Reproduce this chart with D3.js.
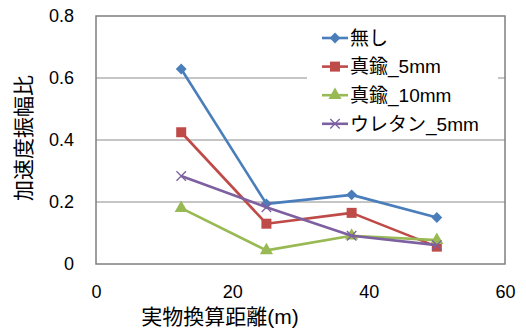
<!DOCTYPE html>
<html>
<head>
<meta charset="utf-8">
<script src="https://cdn.jsdelivr.net/npm/d3@7"></script>
<style>
  html, body { margin: 0; padding: 0; background: #fff; }
  svg { display: block; }
  text { font-family: "Liberation Sans", Arial, sans-serif; fill: #000; }
  .jp { font-family: "Liberation Sans", "Noto Sans CJK JP", sans-serif; }
</style>
</head>
<body>
<svg id="chart" width="526" height="332"></svg>
<script>
// Distance (scaled to full size, m) at which each measurement was taken
const distances = [12.5, 25, 37.5, 50];

// Acceleration amplitude ratio for each damping condition
const seriesNames = ["無し", "真鍮_5mm", "真鍮_10mm", "ウレタン_5mm"];
const valuesNone = [0.629, 0.194, 0.223, 0.150];
const valuesBrass5 = [0.425, 0.130, 0.165, 0.056];
const valuesBrass10 = [0.180, 0.044, 0.091, 0.077];
const valuesUrethane5 = [0.284, 0.183, 0.091, 0.061];

const xTicks = [0, 20, 40, 60];
const yTicks = [0, 0.2, 0.4, 0.6, 0.8];

const colors = ["#4A7EBB", "#BE4B48", "#98B954", "#7D60A0"];
const symbols = ["diamond", "square", "triangle", "cross"];

const series = [valuesNone, valuesBrass5, valuesBrass10, valuesUrethane5].map((vals, i) => ({
  name: seriesNames[i],
  color: colors[i],
  symbol: symbols[i],
  points: vals.map((v, j) => ({ x: distances[j], y: v }))
}));

const svg = d3.select("#chart");
const plot = { left: 96, right: 505, top: 16, bottom: 264 };

const x = d3.scaleLinear().domain([0, 60]).range([plot.left, plot.right]);
const y = d3.scaleLinear().domain([0, 0.8]).range([plot.bottom, plot.top]);

// Horizontal gridlines
svg.append("g")
  .selectAll("line")
  .data(yTicks.filter(t => t > 0 && t < 0.8))
  .join("line")
  .attr("x1", plot.left).attr("x2", plot.right)
  .attr("y1", d => y(d)).attr("y2", d => y(d))
  .attr("stroke", "#8c8c8c").attr("stroke-width", 1);

// Plot frame
svg.append("rect")
  .attr("x", plot.left).attr("y", plot.top)
  .attr("width", plot.right - plot.left).attr("height", plot.bottom - plot.top)
  .attr("fill", "none").attr("stroke", "#7f7f7f").attr("stroke-width", 1.5);

// Y axis labels
const yAxis = d3.axisLeft(y).tickValues(yTicks).tickSize(0).tickPadding(22)
  .tickFormat(d => d === 0 ? "0" : d3.format(".1f")(d));
svg.append("g").attr("transform", `translate(${plot.left},0)`).call(yAxis)
  .call(g => g.select(".domain").remove())
  .call(g => g.selectAll("text").attr("font-size", 18)
    .attr("font-family", "Liberation Sans, Arial, sans-serif").attr("fill", "#000"));

// X axis labels
const xAxis = d3.axisBottom(x).tickValues(xTicks).tickSize(0).tickPadding(21)
  .tickFormat(d3.format("d"));
svg.append("g").attr("transform", `translate(0,${plot.bottom})`).call(xAxis)
  .call(g => g.select(".domain").remove())
  .call(g => g.selectAll("text").attr("font-size", 18)
    .attr("font-family", "Liberation Sans, Arial, sans-serif").attr("fill", "#000"));

// Axis titles
svg.append("text")
  .attr("class", "jp")
  .attr("x", 220).attr("y", 324)
  .attr("text-anchor", "middle")
  .attr("font-size", 21)
  .text("実物換算距離(m)");

svg.append("text")
  .attr("class", "jp")
  .attr("transform", `translate(31,${(plot.top + plot.bottom) / 2 - 2}) rotate(-90)`)
  .attr("text-anchor", "middle")
  .attr("font-size", 21)
  .text("加速度振幅比");

// Marker drawing helper
function drawMarker(g, type, color, cx, cy) {
  if (type === "diamond") {
    g.append("path").attr("d", d3.symbol().type(d3.symbolDiamond2).size(75)())
      .attr("transform", `translate(${cx},${cy})`).attr("fill", color);
  } else if (type === "square") {
    g.append("rect").attr("x", cx - 5).attr("y", cy - 5).attr("width", 10).attr("height", 10)
      .attr("fill", color);
  } else if (type === "triangle") {
    g.append("path").attr("d", d3.symbol().type(d3.symbolTriangle).size(75)())
      .attr("transform", `translate(${cx},${cy})`).attr("fill", color);
  } else {
    g.append("path").attr("d", d3.symbol().type(d3.symbolX).size(60)())
      .attr("transform", `translate(${cx},${cy})`)
      .attr("fill", "none").attr("stroke", color).attr("stroke-width", 1.3);
  }
}

// Series lines and markers
const line = d3.line().x(d => x(d.x)).y(d => y(d.y));
series.forEach(s => {
  const g = svg.append("g");
  g.append("path").datum(s.points).attr("d", line)
    .attr("fill", "none").attr("stroke", s.color).attr("stroke-width", 2.6)
    .attr("stroke-linejoin", "round");
  s.points.forEach(p => drawMarker(g, s.symbol, s.color, x(p.x), y(p.y)));
});

// Legend
const legend = svg.append("g");
legend.append("rect").attr("x", 307).attr("y", 22).attr("width", 191).attr("height", 114)
  .attr("fill", "#fff");
series.forEach((s, i) => {
  const cy = 38 + i * 28.6;
  legend.append("line").attr("x1", 322).attr("x2", 348).attr("y1", cy).attr("y2", cy)
    .attr("stroke", s.color).attr("stroke-width", 2.6);
  drawMarker(legend, s.symbol, s.color, 335, cy);
  legend.append("text").attr("class", "jp").attr("x", 350).attr("y", cy)
    .attr("dy", "0.36em").attr("font-size", 19).text(s.name);
});
</script>
</body>
</html>
